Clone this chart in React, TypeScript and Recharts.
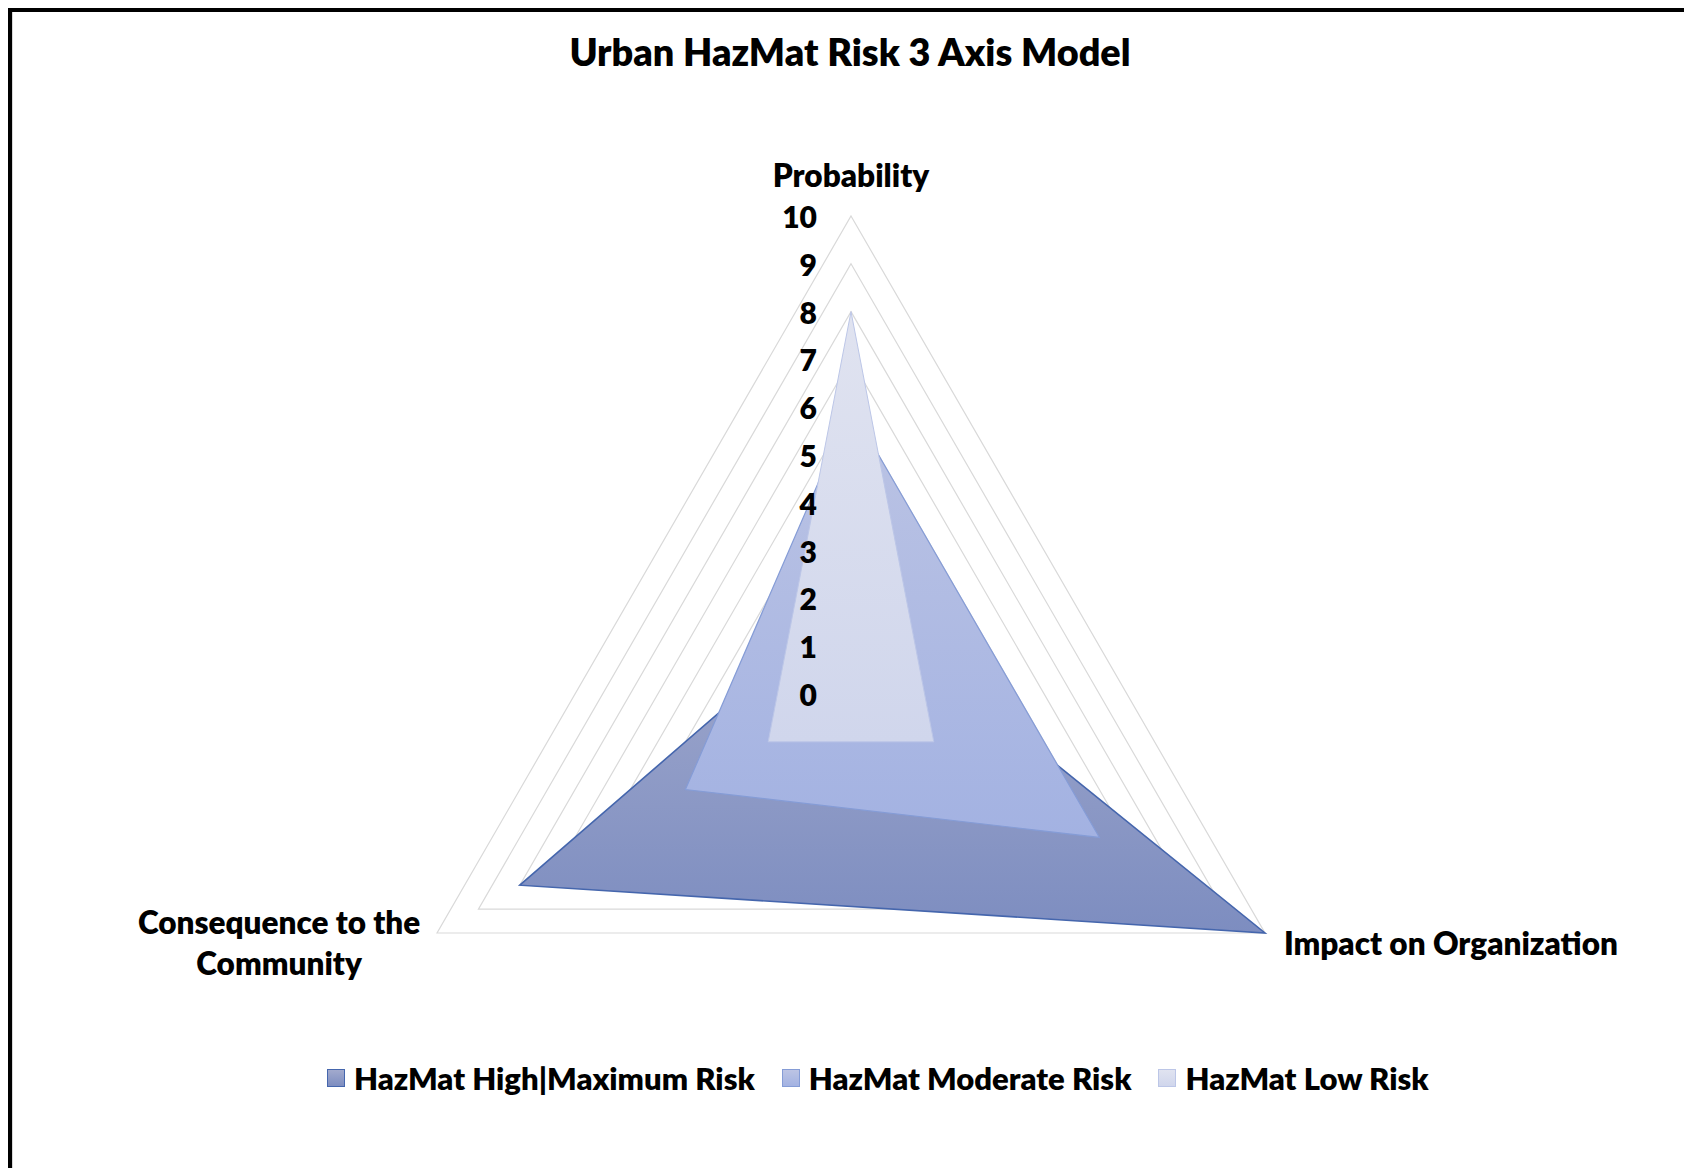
import React from 'react';
import { RadarChart, Radar, PolarGrid, PolarAngleAxis, PolarRadiusAxis, Legend } from 'recharts';

const categories = ['Probability', 'Impact on Organization', 'Consequence to the Community'];
const highRisk = [2, 10, 8];
const moderateRisk = [6, 6, 4];
const lowRisk = [8, 2, 2];
const radiusTicks = [0, 1, 2, 3, 4, 5, 6, 7, 8, 9, 10];
const seriesNames = ['HazMat High|Maximum Risk', 'HazMat Moderate Risk', 'HazMat Low Risk'];
const title = 'Urban HazMat Risk 3 Axis Model';

const labelLines: Record<string, string[]> = {
  'Consequence to the Community': ['Consequence to the', 'Community'],
};

const data = categories.map((c, i) => ({
  axis: c,
  high: highRisk[i],
  moderate: moderateRisk[i],
  low: lowRisk[i],
}));

const FONT = 'Lato, "Open Sans", sans-serif';
const WEIGHT = 800;

const series = [
  { key: 'high', name: seriesNames[0], grad: 'gHigh', top: '#a2aacd', bottom: '#7d8dc0', stroke: '#4566ad', sw: 1.6 },
  { key: 'moderate', name: seriesNames[1], grad: 'gMod', top: '#bcc4e4', bottom: '#a3b2e2', stroke: '#859cd6', sw: 1.2 },
  { key: 'low', name: seriesNames[2], grad: 'gLow', top: '#e0e3f0', bottom: '#d0d6ec', stroke: '#bcc6e7', sw: 1 },
];

const W = 1676;
const H = 1148;
const CX = 839;
const CY = 682;
const R = 478;

const AngleTick = (props: any) => {
  const { x, y, payload } = props;
  const idx = categories.indexOf(payload.value);
  const common = { fontFamily: FONT, fontWeight: WEIGHT, fontSize: 31.5, fill: '#000' };
  if (idx === 0) {
    return (
      <text x={x} y={y - 33} textAnchor="middle" dominantBaseline="central" {...common}>
        {payload.value}
      </text>
    );
  }
  if (idx === 1) {
    return (
      <text x={x + 12} y={y + 6} textAnchor="start" dominantBaseline="central" {...common}>
        {payload.value}
      </text>
    );
  }
  const lines = labelLines[payload.value] || [payload.value];
  return (
    <text x={x - 151} y={y - 15} textAnchor="middle" dominantBaseline="central" {...common}>
      {lines.map((l, i) => (
        <tspan key={i} x={x - 151} dy={i === 0 ? 0 : 41}>
          {l}
        </tspan>
      ))}
    </text>
  );
};

const RadiusTick = (props: any) => {
  const { x, y, payload } = props;
  return (
    <text
      x={x - 34}
      y={y}
      textAnchor="end"
      dominantBaseline="central"
      fontFamily={FONT}
      fontWeight={WEIGHT}
      fontSize={30}
      fill="#000"
    >
      {payload.value}
    </text>
  );
};

const LegendContent = () => (
  <div
    style={{
      display: 'flex',
      justifyContent: 'flex-start',
      alignItems: 'center',
      paddingLeft: 315,
      fontFamily: FONT,
      fontWeight: WEIGHT,
      fontSize: 31,
      color: '#000',
      whiteSpace: 'nowrap',
    }}
  >
    {series.map((s, i) => (
      <div key={s.key} style={{ display: 'flex', alignItems: 'center', marginLeft: i === 0 ? 0 : 27 }}>
        <div
          style={{
            width: 16,
            height: 16,
            background: `linear-gradient(${s.top}, ${s.bottom})`,
            border: `1.5px solid ${s.stroke}`,
            marginRight: 9,
          }}
        />
        <span>{s.name}</span>
      </div>
    ))}
  </div>
);

export default function App() {
  return (
    <div
      style={{
        position: 'relative',
        width: 1684,
        height: 1160,
        boxSizing: 'border-box',
        borderTop: '4px solid #000',
        borderLeft: '4px solid #000',
        background: '#fff',
        overflow: 'hidden',
      }}
    >
      <div style={{ position: 'absolute', left: 0, top: 0, width: 1, height: '100%', background: '#d8d8d8' }} />
      <div style={{ position: 'absolute', left: 1675, top: 0, width: 2, height: '100%', background: '#e2e2e2' }} />
      <div
        style={{
          position: 'absolute',
          left: 0,
          top: 19,
          width: W,
          textAlign: 'center',
          fontFamily: FONT,
          fontWeight: WEIGHT,
          fontSize: 37.8,
          color: '#000',
          lineHeight: '42px',
        }}
      >
        {title}
      </div>
      <div style={{ position: 'absolute', left: 0, top: 0 }}>
        <RadarChart width={W} height={H} data={data} cx={CX} cy={CY} outerRadius={R} margin={{ top: 0, right: 0, bottom: 0, left: 0 }}>
          <defs>
            {series.map((s) => (
              <linearGradient key={s.grad} id={s.grad} x1="0" y1="0" x2="0" y2="1">
                <stop offset="0%" stopColor={s.top} />
                <stop offset="100%" stopColor={s.bottom} />
              </linearGradient>
            ))}
          </defs>
          <PolarGrid gridType="polygon" radialLines={false} stroke="#d9d9d9" strokeWidth={1.2} />
          <PolarAngleAxis dataKey="axis" tick={<AngleTick />} tickLine={false} axisLine={false} />
          <PolarRadiusAxis
            angle={90}
            domain={[0, 10]}
            ticks={radiusTicks as any}
            tickCount={11}
            tick={<RadiusTick />}
            axisLine={false}
            tickLine={false}
          />
          {series.map((s) => (
            <Radar
              key={s.key}
              name={s.name}
              dataKey={s.key}
              fill={`url(#${s.grad})`}
              fillOpacity={1}
              stroke={s.stroke}
              strokeWidth={s.sw}
              isAnimationActive={false}
            />
          ))}
          <Legend content={<LegendContent />} wrapperStyle={{ position: 'absolute', top: 1047, left: 0, width: W }} />
        </RadarChart>
      </div>
    </div>
  );
}
